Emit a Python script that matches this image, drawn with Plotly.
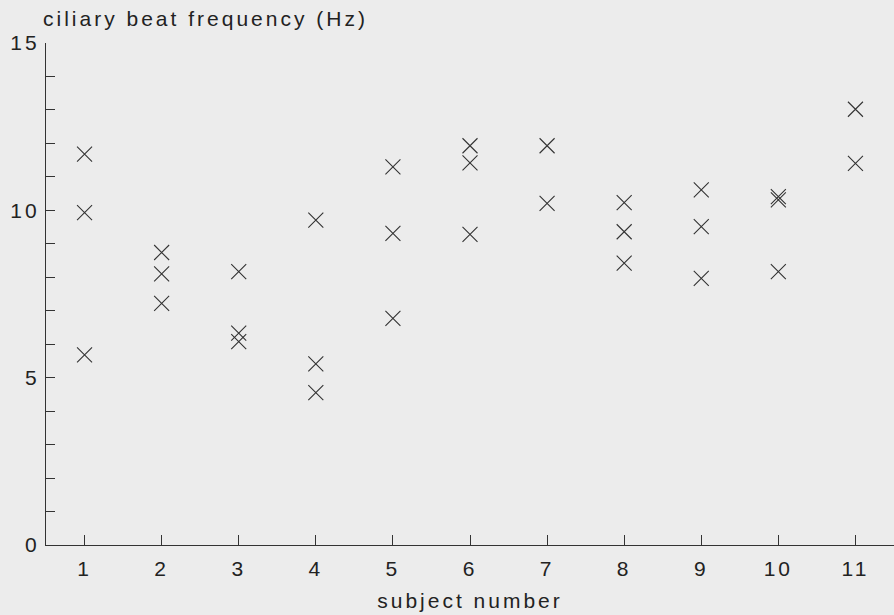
import plotly.graph_objects as go

subjects = [1, 1, 1,
            2, 2, 2,
            3, 3, 3,
            4, 4, 4,
            5, 5, 5,
            6, 6, 6,
            7, 7,
            8, 8, 8,
            9, 9, 9,
            10, 10, 10,
            11, 11]
cbf_hz = [11.68, 9.93, 5.68,
          8.74, 8.10, 7.22,
          8.17, 6.33, 6.08,
          9.71, 5.41, 4.55,
          11.30, 9.31, 6.77,
          11.93, 11.42, 9.28,
          11.93, 10.21,
          10.23, 9.36, 8.42,
          10.61, 9.51, 7.97,
          10.41, 10.31, 8.17,
          13.02, 11.40]

x_ticks = list(range(1, 12))
y_ticks = [0, 5, 10, 15]
y_minor = list(range(0, 16))

bg = "#ececec"
ink = "#333333"
font_family = "Liberation Sans, Arial, sans-serif"

fig = go.Figure()
fig.add_trace(go.Scatter(
    x=subjects, y=cbf_hz, mode="markers",
    marker=dict(symbol="x-thin", size=15, line=dict(color=ink, width=1.1)),
    showlegend=False, hoverinfo="x+y"))

fig.update_layout(
    width=894, height=615,
    margin=dict(l=46, r=0, t=43, b=70),
    paper_bgcolor=bg, plot_bgcolor=bg,
    font=dict(family=font_family, color="#222222", size=21),
    xaxis=dict(range=[0.5, 11.5], tickvals=x_ticks, ticktext=[str(v) for v in x_ticks],
               ticks="inside", ticklen=10, tickwidth=1, tickcolor=ink,
               ticklabelstandoff=5,
               showline=True, linecolor=ink, linewidth=1.3,
               showgrid=False, zeroline=False, tickfont=dict(size=21),
               title=dict(text="subject number", font=dict(size=21), standoff=13)),
    yaxis=dict(range=[0, 15], tickvals=y_ticks, ticktext=[str(v) for v in y_ticks],
               ticks="inside", ticklen=9, tickwidth=1, tickcolor=ink,
               ticklabelstandoff=1,
               minor=dict(tickvals=y_minor, ticks="inside", ticklen=9, tickwidth=1, tickcolor=ink),
               showline=True, linecolor=ink, linewidth=1.3,
               showgrid=False, zeroline=False, tickfont=dict(size=21)),
    annotations=[dict(text="ciliary beat frequency (Hz)", xref="paper", yref="paper",
                      x=-0.006, y=1.0, yshift=25, xanchor="left", yanchor="middle",
                      align="left", showarrow=False, font=dict(size=21, color="#222222"))],
)

css = ("var s=document.createElement('style');"
       "s.innerHTML='body{margin:0;background:#ececec;} .main-svg text{letter-spacing:3px;}';"
       "document.head.appendChild(s);")
fig.write_html("out.html", post_script=css, config={"displayModeBar": False})
